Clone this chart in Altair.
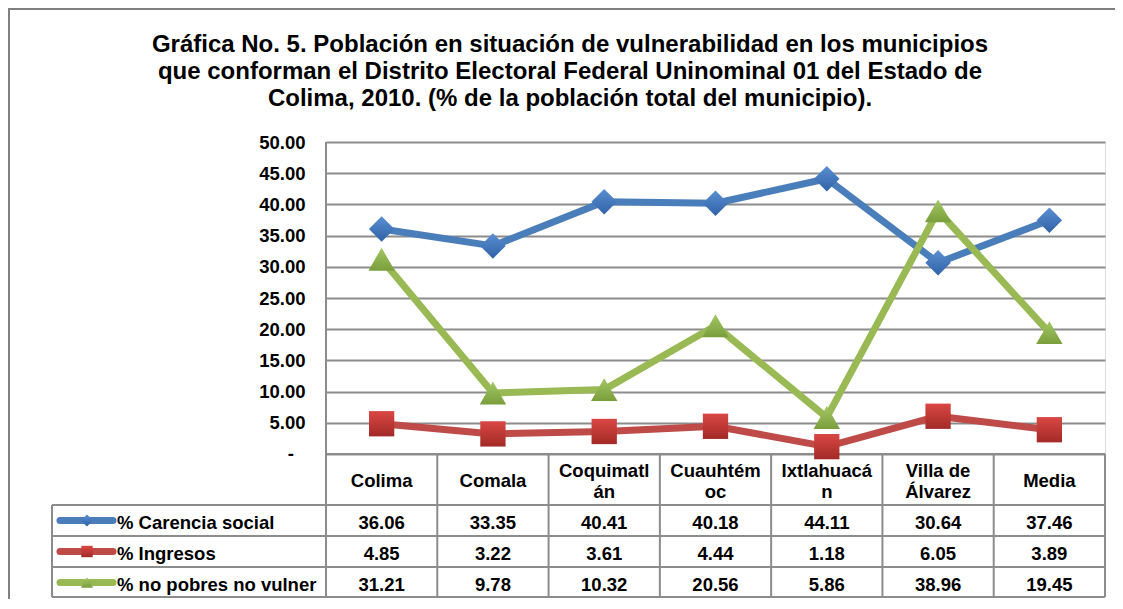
import altair as alt
import pandas as pd

# ---------------- data ----------------
categories = ["Colima", "Comala", "Coquimatlán", "Cuauhtémoc", "Ixtlahuacán",
              "Villa de Álvarez", "Media"]
header_labels = [["Colima"], ["Comala"], ["Coquimatl", "án"], ["Cuauhtém", "oc"],
                 ["Ixtlahuacá", "n"], ["Villa de", "Álvarez"], ["Media"]]
series_names = ["% Carencia social", "% Ingresos", "% no pobres no vulner"]
carencia = [36.06, 33.35, 40.41, 40.18, 44.11, 30.64, 37.46]
ingresos = [4.85, 3.22, 3.61, 4.44, 1.18, 6.05, 3.89]
no_pobres = [31.21, 9.78, 10.32, 20.56, 5.86, 38.96, 19.45]
y_ticks = [0, 5, 10, 15, 20, 25, 30, 35, 40, 45, 50]
zero_label = "-"
title_lines = [
    "Gráfica No. 5. Población en situación de vulnerabilidad en los municipios",
    "que conforman el Distrito Electoral Federal Uninominal 01 del Estado de",
    "Colima, 2010. (% de la población total del municipio).",
]

# ---------------- styles ----------------
FONT = "Liberation Sans"
line_colors = ["#4A7EBB", "#BE4B48", "#98B954"]
marker_shapes = ["diamond", "square", "triangle-up"]
marker_sizes = [650, 640, 700]
legend_marker_sizes = [150, 130, 150]
marker_grad = [("#5A8FD2", "#2F62A6"), ("#DA4743", "#A22A27"), ("#A3C763", "#7A9E3C")]
GRID = "#8C8C8C"
TXT = 18.5

# ---------------- layout (page pixels) ----------------
PAGE = 8
PLOT_L, PLOT_T, PLOT_W, PLOT_H = 326, 142, 779, 312
Y_MAX = 50
NC = len(categories)
CW = PLOT_W / NC
UY = PLOT_H / Y_MAX
BOTTOM0 = PLOT_T + PLOT_H


def xd(px):
    return (px - PLOT_L) / CW


def yd(py):
    return (BOTTOM0 - py) / UY


ROW_EDGES = [BOTTOM0, 505, 536, 567, 597]
TABLE_L = 52
header_single = 481
header_double = [470.5, 492]
row_centers = [522.5, 553.5, 584.5]
title_centers = [44.5, 71.5, 98.5]

xs = alt.Scale(domain=[0, NC], nice=False, zero=False)
ys = alt.Scale(domain=[0, Y_MAX], nice=False, zero=False)
yaxis = alt.Axis(
    values=y_ticks, domain=False, ticks=False, grid=True, gridColor=GRID, gridWidth=2,
    labelPadding=21, labelFont=FONT, labelFontWeight="bold", labelFontSize=TXT,
    labelColor="#000000", labelFlush=False, labelOverlap=False, title=None,
    labelExpr="datum.value == 0 ? '' : format(datum.value, '.2f')",
)


def X(f):
    return alt.X(f, type="quantitative", scale=xs, axis=None)


def X2(f):
    return alt.X2(f)


def Y(f):
    return alt.Y(f, type="quantitative", scale=ys, axis=yaxis)


# ---------------- title ----------------
tdf = pd.DataFrame(dict(x=[xd(570)] * 3, y=[yd(c) for c in title_centers], t=title_lines))
title_text = alt.Chart(tdf).mark_text(
    font=FONT, fontWeight="bold", fontSize=24, color="#000000", baseline="middle",
    align="center").encode(x=X("x"), y=Y("y"), text="t:N")

# zero tick label ("-")
zdf = pd.DataFrame(dict(x=[xd(294)], y=[y_ticks[0]], t=[zero_label]))
zero_text = alt.Chart(zdf).mark_text(
    font=FONT, fontWeight="bold", fontSize=TXT, color="#000000", baseline="middle",
    align="right").encode(x=X("x"), y=Y("y"), text="t:N")

# ---------------- table grid ----------------
h_rules = []
for i, py in enumerate(ROW_EDGES):
    h_rules.append(dict(x=xd(TABLE_L) if i > 0 else 0, x2=NC, y=yd(py)))
v_rules = [dict(x=xd(TABLE_L), y=yd(ROW_EDGES[1]), y2=yd(ROW_EDGES[-1])),
           dict(x=0, y=Y_MAX, y2=yd(ROW_EDGES[-1]))]
for i in range(1, NC + 1):
    v_rules.append(dict(x=i, y=0, y2=yd(ROW_EDGES[-1])))

hr = alt.Chart(pd.DataFrame(h_rules)).mark_rule(color=GRID, strokeWidth=2).encode(
    x=X("x"), x2=X2("x2"), y=Y("y"))
vr = alt.Chart(pd.DataFrame(v_rules)).mark_rule(color=GRID, strokeWidth=2).encode(
    x=X("x"), y=Y("y"), y2=alt.Y2("y2"))

# header texts
hrows = []
for i, lines in enumerate(header_labels):
    ys_px = [header_single] if len(lines) == 1 else header_double
    for ln, py in zip(lines, ys_px):
        hrows.append(dict(x=i + 0.5, y=yd(py), label=ln))
hdr_text = alt.Chart(pd.DataFrame(hrows)).mark_text(
    font=FONT, fontWeight="bold", fontSize=TXT, color="#000000",
    baseline="middle", align="center").encode(
    x=X("x"), y=Y("y"), text="label:N")

# values in table
val_rows = []
for k, (s, vals) in enumerate(zip(series_names, [carencia, ingresos, no_pobres])):
    for i, v in enumerate(vals):
        val_rows.append(dict(x=i + 0.5, y=yd(row_centers[k]), v=v))
val_text = alt.Chart(pd.DataFrame(val_rows)).mark_text(
    font=FONT, fontWeight="bold", fontSize=TXT, color="#000000", baseline="middle",
    align="center").encode(x=X("x"), y=Y("y"), text=alt.Text("v:Q", format=".2f"))

# legend labels in table
leg = pd.DataFrame(dict(x=[xd(117)] * 3, y=[yd(c) for c in row_centers], label=series_names))
leg_text = alt.Chart(leg).mark_text(
    font=FONT, fontWeight="bold", fontSize=TXT, color="#000000", baseline="middle",
    align="left").encode(x=X("x"), y=Y("y"), text="label:N")

layers = [hr, vr, title_text, zero_text, hdr_text, val_text, leg_text]

# legend samples
for k in range(3):
    samp = pd.DataFrame(dict(x=[xd(60)], x2=[xd(113)], xm=[xd(87)],
                             y=[yd(row_centers[k] - 2)]))
    layers.append(alt.Chart(samp).mark_rule(
        color=line_colors[k], strokeWidth=7, strokeCap="round").encode(
        x=X("x"), x2=X2("x2"), y=Y("y")))
    g = alt.Gradient(gradient="linear", x1=0, y1=0, x2=0, y2=1,
                     stops=[alt.GradientStop(offset=0, color=marker_grad[k][0]),
                            alt.GradientStop(offset=1, color=marker_grad[k][1])])
    layers.append(alt.Chart(samp).mark_point(
        shape=marker_shapes[k], filled=True, fill=g, opacity=1,
        size=legend_marker_sizes[k], strokeWidth=0).encode(x=X("xm"), y=Y("y")))

# ---------------- series ----------------
series_dfs = []
for k, vals in enumerate([carencia, ingresos, no_pobres]):
    series_dfs.append(pd.DataFrame(dict(x=[i + 0.5 for i in range(NC)], y=vals,
                                        cat=categories, series=series_names[k])))

for k in range(3):
    layers.append(alt.Chart(series_dfs[k]).mark_line(
        color=line_colors[k], strokeWidth=7, strokeJoin="round", strokeCap="round").encode(
        x=X("x"), y=Y("y")))
for k in range(3):
    g = alt.Gradient(gradient="linear", x1=0, y1=0, x2=0, y2=1,
                     stops=[alt.GradientStop(offset=0, color=marker_grad[k][0]),
                            alt.GradientStop(offset=1, color=marker_grad[k][1])])
    layers.append(alt.Chart(series_dfs[k]).mark_point(
        shape=marker_shapes[k], filled=True, fill=g, opacity=1, size=marker_sizes[k],
        strokeWidth=0).encode(x=X("x"), y=Y("y")))

# outer frame (left and top edges visible)
frame_l = alt.Chart(pd.DataFrame({"a": [0]})).mark_rule(color="#7F7F7F", strokeWidth=3).encode(
    x=alt.value(PAGE - PLOT_L + 0.5), y=alt.value(PAGE - PLOT_T), y2=alt.value(700))
frame_t = alt.Chart(pd.DataFrame({"a": [0]})).mark_rule(color="#7F7F7F", strokeWidth=3).encode(
    x=alt.value(PAGE - PLOT_L), x2=alt.value(1200), y=alt.value(PAGE - PLOT_T + 0.5))
layers += [frame_l, frame_t]

chart = alt.layer(*layers).properties(
    width=PLOT_W, height=PLOT_H,
    autosize=alt.AutoSizeParams(type="none"),
    padding={"left": PLOT_L - PAGE, "top": PLOT_T - PAGE, "right": 10,
             "bottom": 599 - BOTTOM0},
).configure_view(stroke=None).configure(background="white")

chart.save("out.html", embed_options={"renderer": "svg", "actions": False})
